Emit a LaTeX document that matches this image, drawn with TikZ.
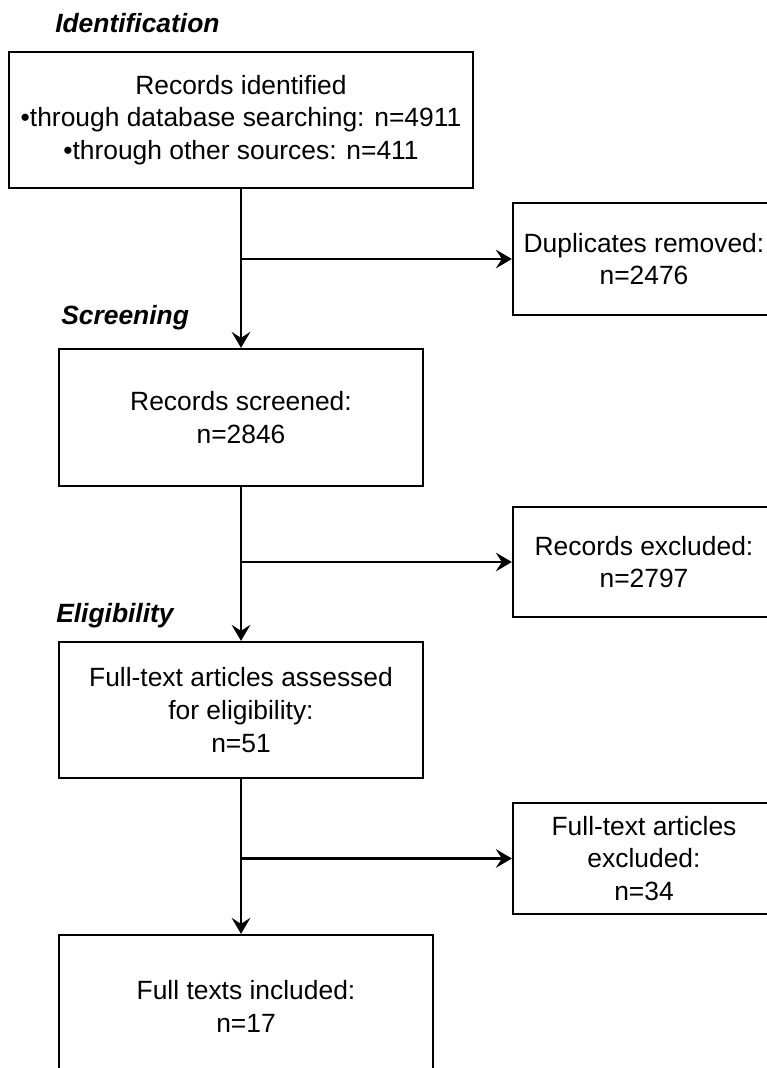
\documentclass[tikz,border=0pt]{standalone}
\usepackage{fontspec}
\setmainfont{Liberation Sans}
\usetikzlibrary{arrows.meta}

\tikzset{
  box/.style={draw, line width=1.7pt, inner sep=0pt, align=center,
    font=\fontsize{19.8pt}{24.5pt}\selectfont},
  phase/.style={anchor=base west, inner sep=0pt,
    font=\fontsize{19.8pt}{24.5pt}\selectfont\bfseries\itshape},
  flow/.style={line width=1.7pt, -{Stealth[length=12pt,width=14pt,inset=4.5pt]}}
}

\begin{document}
\begin{tikzpicture}[x=0.75pt,y=-0.75pt]
\useasboundingbox (0,0) rectangle (767,1068);
\clip (0,0) rectangle (767,1068);

\node[phase] (pid) at (55,32) {Identification};
\node[phase] (pscr) at (61,324) {Screening};
\node[phase] (pel) at (56,622) {Eligibility};

\node[box, minimum width=348pt, minimum height=102pt] (rec) at (241,120)
  {Records identified\\•through database searching: n=4911\\•through other sources: n=411};
\node[box, minimum width=196.5pt, minimum height=84pt] (dup) at (644,259)
  {Duplicates removed:\\n=2476};
\node[box, minimum width=273pt, minimum height=102.75pt] (scr) at (241,417.5)
  {Records screened:\\n=2846};
\node[box, minimum width=196.5pt, minimum height=82.5pt] (exc1) at (644,562)
  {Records excluded:\\n=2797};
\node[box, minimum width=273pt, minimum height=102pt] (elig) at (241,710)
  {Full-text articles assessed\\for eligibility:\\n=51};
\node[box, minimum width=196.5pt, minimum height=83.25pt] (exc2) at (644,858.5)
  {Full-text articles\\excluded:\\n=34};
\node[box, minimum width=280.5pt, minimum height=107.25pt] (inc) at (246,1006.5)
  {Full texts included:\\n=17};

% main line
\draw[flow] (rec.south) -- (rec.south |- scr.north);
\draw[flow] (scr.south) -- (scr.south |- elig.north);
\draw[flow] (elig.south) -- (elig.south |- inc.north);

% side branches
\draw[flow] (rec.south |- dup.west) -- (dup.west);
\draw[flow] (scr.south |- exc1.west) -- (exc1.west);
\draw[flow] (elig.south |- exc2.west) -- (exc2.west);
\end{tikzpicture}
\end{document}
